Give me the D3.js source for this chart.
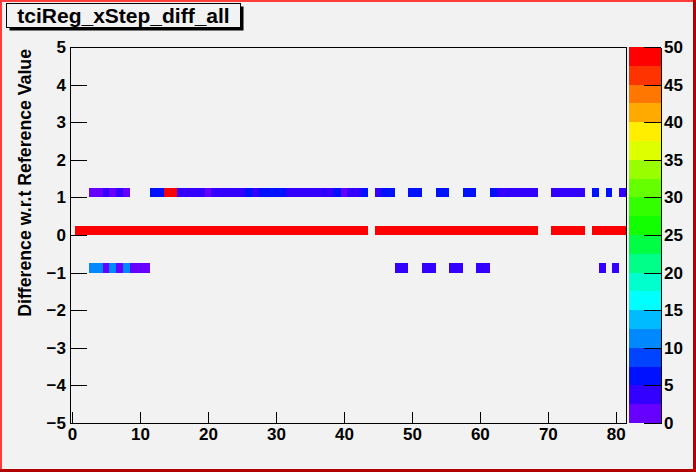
<!DOCTYPE html>
<html><head><meta charset="utf-8">
<script src="https://cdn.jsdelivr.net/npm/d3@7"></script>
<style>
html,body{margin:0;padding:0;background:#f2f2f2;}
text{font-family:"Liberation Sans",Arial,sans-serif;font-weight:bold;}
</style></head>
<body>
<svg id="c" width="696" height="472"></svg>
<script>
// ---- data ----
const title = "tciReg_xStep_diff_all";
const yTitle = "Difference w.r.t Reference Value";
// x bin centres (bin width 1)
const xBins = [0,1,2,3,4,5,6,7,8,9,10,11,12,13,14,15,16,17,18,19,20,21,22,23,24,25,26,27,28,29,30,31,32,33,34,35,36,37,38,39,40,41,42,43,44,45,46,47,48,49,50,51,52,53,54,55,56,57,58,59,60,61,62,63,64,65,66,67,68,69,70,71,72,73,74,75,76,77,78,79,80,81];
// y bins (low edges), bin height 0.25
const yRows = [1, 0, -1];
// counts per x bin for each y row
const rowPlus1 = [0,0,0,1,1,3,1,3,1,0,0,0,6,6,60,60,3,3,3,3,1,3,3,3,3,3,6,3,6,6,6,6,3,3,3,3,3,3,3,6,1,3,3,6,0,3,6,6,0,0,6,6,0,0,6,6,0,0,6,6,0,0,6,3,3,3,3,3,3,0,0,3,3,3,3,3,0,6,0,6,0,3];
const rowZero  = [0,80,80,80,80,80,80,80,80,80,80,80,80,80,80,80,80,80,80,80,80,80,80,80,80,80,80,80,80,80,80,80,80,80,80,80,80,80,80,80,80,80,80,80,0,80,80,80,80,80,80,80,80,80,80,80,80,80,80,80,80,80,80,80,80,80,80,80,80,0,0,80,80,80,80,80,0,80,80,80,80,80];
const rowMinus1= [0,0,0,11,11,1,11,1,11,1,1,1,0,0,0,0,0,0,0,0,0,0,0,0,0,0,0,0,0,0,0,0,0,0,0,0,0,0,0,0,0,0,0,0,0,0,0,0,3,3,0,0,3,3,0,0,3,3,0,0,3,3,0,0,0,0,0,0,0,0,0,0,0,0,0,0,0,0,3,0,3,0];
const rows = [rowPlus1, rowZero, rowMinus1];
const xTicks = [0,10,20,30,40,50,60,70,80];
const yTicks = [-5,-4,-3,-2,-1,0,1,2,3,4,5];
const zTicks = [0,5,10,15,20,25,30,35,40,45,50];
const palette = ['#6600ff','#3300ff','#0011ff','#0044ff','#0088ff','#00bbff','#00ffff','#00ffcc','#00ff88','#00ff44','#11ff00','#33ff00','#66ff00','#99ff00','#ddff00','#ffee00','#ffaa00','#ff7700','#ff3300','#ff0000'];

// ---- layout ----
const svg = d3.select("#c");
const W = 696, H = 472;
const fx0 = 70, fx1 = 626, fy0 = 47, fy1 = 423;
const x = d3.scaleLinear().domain([-0.3, 81.5]).range([fx0, fx1]);
const y = d3.scaleLinear().domain([-5, 5]).range([fy1, fy0]);
const z = d3.scaleQuantize().domain([0, 50]).range(palette);
const yBinH = 0.25;

svg.append("rect").attr("width", W).attr("height", H).attr("fill", "#f2f2f2");

// cells
const cells = [];
rows.forEach((r, ri) => r.forEach((v, i) => { if (v > 0) cells.push({x: xBins[i], y: yRows[ri], v}); }));
svg.append("g").selectAll("rect").data(cells).join("rect")
  .attr("x", d => x(Math.max(d.x - 0.5, -0.3)))
  .attr("width", d => x(Math.min(d.x + 0.5, 81.5)) - x(Math.max(d.x - 0.5, -0.3)))
  .attr("y", d => y(d.y + yBinH))
  .attr("height", d => y(d.y) - y(d.y + yBinH))
  .attr("fill", d => z(Math.min(d.v, 49.99)))
  .attr("shape-rendering", "crispEdges");

// frame
svg.append("rect").attr("x", fx0).attr("y", fy0).attr("width", fx1 - fx0).attr("height", fy1 - fy0)
  .attr("fill", "none").attr("stroke", "#000").attr("shape-rendering", "crispEdges");

// x axis
const gx = svg.append("g").attr("transform", `translate(0,${fy1})`);
gx.call(d3.axisBottom(x).tickValues(d3.range(0, 81, 2)).tickSizeInner(-5.6).tickSizeOuter(0).tickFormat(""));
gx.call(d3.axisBottom(x).tickValues(xTicks).tickSizeInner(-11).tickSizeOuter(0).tickPadding(5));
gx.selectAll("path.domain").attr("stroke", "#000");
gx.selectAll("text").attr("font-size", 17).attr("fill", "#000");
gx.selectAll("line, path").attr("shape-rendering", "crispEdges");

// y axis
const gy = svg.append("g").attr("transform", `translate(${fx0},0)`);
gy.call(d3.axisLeft(y).tickValues(d3.range(-50, 51, 2).map(v => v / 10)).tickSizeInner(-8.5).tickSizeOuter(0).tickFormat(""));
gy.call(d3.axisLeft(y).tickValues(yTicks).tickSizeInner(-17).tickSizeOuter(0).tickPadding(4));
gy.selectAll("text").attr("font-size", 17).attr("fill", "#000");
gy.selectAll("line, path").attr("shape-rendering", "crispEdges");

svg.append("text").attr("transform", `translate(31,${fy0 + 2}) rotate(-90)`)
  .attr("text-anchor", "end").attr("font-size", 17.7).text(yTitle);

// colour bar
const cb0 = 629, cb1 = 661;
const zs = d3.scaleLinear().domain([0, 50]).range([fy1, fy0]);
const levels = palette.map((c, i) => ({c, lo: i * 2.5, hi: (i + 1) * 2.5}));
svg.append("g").selectAll("rect").data(levels).join("rect")
  .attr("x", cb0).attr("width", cb1 - cb0)
  .attr("y", d => zs(d.hi)).attr("height", d => zs(d.lo) - zs(d.hi))
  .attr("fill", d => d.c).attr("shape-rendering", "crispEdges");
const gz = svg.append("g").attr("transform", `translate(${cb1},0)`);
gz.call(d3.axisRight(zs).tickValues(zTicks).tickSizeInner(-17).tickSizeOuter(0).tickPadding(3));
gz.selectAll("text").attr("font-size", 17).attr("fill", "#000");
gz.selectAll("line, path").attr("shape-rendering", "crispEdges");

// title box
svg.append("rect").attr("x", 9.5).attr("y", 6.5).attr("width", 234).attr("height", 24).attr("fill", "#000");
svg.append("rect").attr("x", 6.5).attr("y", 3.5).attr("width", 234).attr("height", 24)
  .attr("fill", "#f2f2f2").attr("stroke", "#000");
svg.append("text").attr("x", 123.5).attr("y", 23).attr("text-anchor", "middle")
  .attr("font-size", 21).text(title);

// canvas border
svg.append("rect").attr("x", 0).attr("y", 0).attr("width", 2).attr("height", H).attr("fill", "#ff3b3b");
svg.append("rect").attr("x", 0).attr("y", 0).attr("width", W).attr("height", 2).attr("fill", "#ff3b3b");
svg.append("rect").attr("x", W - 3).attr("y", 0).attr("width", 3).attr("height", H).attr("fill", "#b00000");
svg.append("rect").attr("x", 0).attr("y", H - 3).attr("width", W).attr("height", 3).attr("fill", "#b00000");
</script>
</body></html>
